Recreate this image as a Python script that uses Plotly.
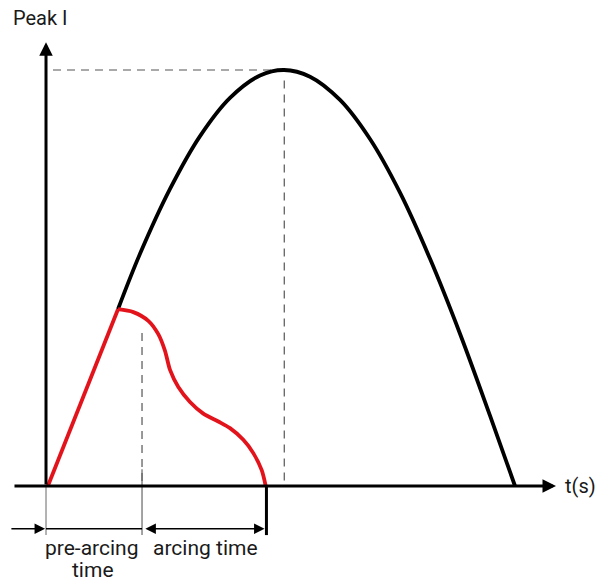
import plotly.graph_objects as go

# ---- data (time in ms, current in per-unit of peak) ----
black_t = [1.535, 2.004, 2.644, 3.284, 3.923, 4.563, 5.075, 5.629, 6.269, 6.908, 7.548, 8.188, 8.827, 9.467, 10.0]
black_i = [0.425, 0.558, 0.714, 0.841, 0.933, 0.987, 1.0, 0.984, 0.928, 0.834, 0.705, 0.546, 0.366, 0.169, 0.0]

rise_t = [0.04, 1.535]
rise_i = [0.0, 0.425]

arc_t = [1.535, 1.861, 2.181, 2.394, 2.537, 2.644, 2.821, 3.070, 3.354, 3.674, 3.923, 4.207, 4.420, 4.599, 4.684]
arc_i = [0.425, 0.418, 0.397, 0.365, 0.325, 0.279, 0.238, 0.202, 0.174, 0.155, 0.139, 0.111, 0.079, 0.038, 0.0]

t_start = 0.0
t_arc_start = 2.047
i_arc_start = 0.368
t_clear = 4.70
t_peak = 5.08
i_peak = 1.0

fig = go.Figure()

DASH = dict(color="#555555", width=1.2, dash="8px,6px")

# dashed guides
fig.add_trace(go.Scatter(x=[0.149, t_peak], y=[i_peak, i_peak], mode="lines", line=DASH, hoverinfo="skip"))
fig.add_trace(go.Scatter(x=[t_peak, t_peak], y=[0.975, 0], mode="lines", line=DASH, hoverinfo="skip"))
fig.add_trace(go.Scatter(x=[t_arc_start, t_arc_start], y=[i_arc_start, 0], mode="lines", line=DASH, hoverinfo="skip"))

# thin grey markers below axis
GREY = dict(color="#9a9a9a", width=1.5)
fig.add_trace(go.Scatter(x=[t_start, t_start], y=[0, -0.118], mode="lines", line=GREY, hoverinfo="skip"))
fig.add_trace(go.Scatter(x=[t_arc_start, t_arc_start], y=[0.04, -0.118], mode="lines", line=dict(color="#666666", width=1.2), hoverinfo="skip"))

# prospective current
fig.add_trace(go.Scatter(x=black_t, y=black_i, mode="lines", line=dict(color="#000000", width=3.8, shape="spline"), hoverinfo="skip"))

# axes with arrows
fig.add_annotation(x=10.874, y=0, ax=-0.704, ay=0, xref="x", yref="y", axref="x", ayref="y",
                   showarrow=True, arrowhead=2, arrowsize=0.9, arrowwidth=3, arrowcolor="#000000", text="")
fig.add_annotation(x=t_start, y=1.067, ax=t_start, ay=0, xref="x", yref="y", axref="x", ayref="y",
                   showarrow=True, arrowhead=2, arrowsize=0.9, arrowwidth=3, arrowcolor="#000000", text="")

# let-through current
fig.add_trace(go.Scatter(x=rise_t, y=rise_i, mode="lines", line=dict(color="#e3131b", width=3.8), hoverinfo="skip"))
fig.add_trace(go.Scatter(x=arc_t, y=arc_i, mode="lines", line=dict(color="#e3131b", width=3.8, shape="spline", smoothing=0.8), hoverinfo="skip"))

# clearing tick
fig.add_trace(go.Scatter(x=[t_clear, t_clear], y=[0, -0.118], mode="lines", line=dict(color="#000000", width=3), hoverinfo="skip"))

# bracket arrows
yb = -0.103
fig.add_trace(go.Scatter(x=[t_start, t_arc_start], y=[yb, yb], mode="lines", line=dict(color="#000000", width=1.5), hoverinfo="skip"))
fig.add_annotation(x=-0.02, y=yb, ax=-0.77, ay=yb, xref="x", yref="y", axref="x", ayref="y",
                   showarrow=True, arrowhead=2, arrowsize=1.4, arrowwidth=1.5, arrowcolor="#000000", text="")
fig.add_annotation(x=t_clear - 0.04, y=yb, ax=t_arc_start + 0.04, ay=yb, xref="x", yref="y", axref="x", ayref="y",
                   showarrow=True, arrowhead=2, startarrowhead=2, arrowside="end+start",
                   arrowsize=1.4, startarrowsize=1.4, arrowwidth=1.5, arrowcolor="#000000", text="")

FONT = dict(family="Roboto", size=21, color="#1a1a1a")
fig.add_annotation(x=0.98, y=-0.149, xref="x", yref="y", text="pre-arcing", showarrow=False, font=FONT)
fig.add_annotation(x=1.01, y=-0.202, xref="x", yref="y", text="time", showarrow=False, font=FONT)
fig.add_annotation(x=3.39, y=-0.149, xref="x", yref="y", text="arcing time", showarrow=False, font=FONT)
fig.add_annotation(x=-0.107, y=1.125, xref="x", yref="y", text="Peak I", showarrow=False,
                   font=dict(family="Roboto", size=20, color="#1a1a1a"))
fig.add_annotation(x=11.39, y=0.0, xref="x", yref="y", text="t(s)", showarrow=False,
                   font=dict(family="Roboto", size=20, color="#1a1a1a"))

fig.update_layout(
    width=597, height=583,
    margin=dict(l=0, r=0, t=0, b=0),
    paper_bgcolor="white", plot_bgcolor="white",
    showlegend=False,
    xaxis=dict(range=[-0.981, 11.748], visible=False, fixedrange=True),
    yaxis=dict(range=[-0.2332, 1.1683], visible=False, fixedrange=True),
)

fig.write_html("out.html", config={"displayModeBar": False},
               post_script="document.body.style.margin='0';")
